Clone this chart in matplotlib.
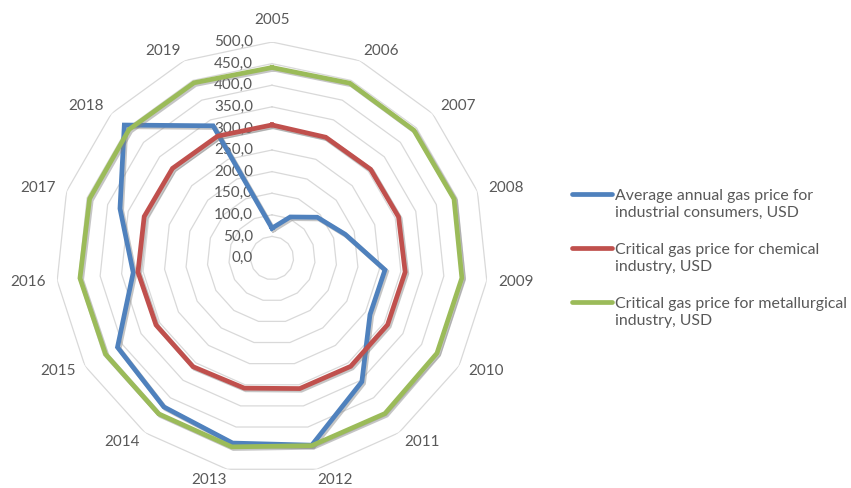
import numpy as np
import matplotlib.pyplot as plt
import matplotlib.patheffects as pe
from matplotlib.lines import Line2D

years = ['2005', '2006', '2007', '2008', '2009', '2010', '2011', '2012',
         '2013', '2014', '2015', '2016', '2017', '2018', '2019']

avg_price = [69, 104, 141, 178, 263, 262, 354, 443, 438, 426, 413, 323, 370, 460, 335]
chem_price = [308, 306, 307, 308, 310, 309, 310, 309, 308, 311, 310, 312, 311, 310, 309]
metal_price = [441, 443, 442, 443, 442, 441, 445, 444, 447, 446, 445, 447, 444, 445, 444]

labels = ['Average annual gas price for\nindustrial consumers, USD',
          'Critical gas price for chemical\nindustry, USD',
          'Critical gas price for metallurgical\nindustry, USD']
colors = ['#4F81BD', '#C0504D', '#9BBB59']

r_ticks = list(range(0, 501, 50))

plt.rcParams['font.family'] = ['Lato', 'DejaVu Sans']
text_color = '#595959'

fig = plt.figure(figsize=(8.51, 4.88), dpi=100)
ax = fig.add_axes([0.0658, 0.0287, 0.5076, 0.8852], projection='polar')
ax.set_theta_zero_location('N')
ax.set_theta_direction(-1)
ax.set_ylim(0, 500)
ax.grid(False)
ax.spines['polar'].set_visible(False)
ax.set_xticks([])
ax.set_yticks([])

theta = np.linspace(0, 2 * np.pi, len(years), endpoint=False)
theta_c = np.append(theta, theta[0])

# polygon grid like Excel radar
for r in r_ticks[1:]:
    ax.plot(theta_c, [r] * len(theta_c), color='#D9D9D9', lw=0.9, zorder=1)

# radial labels
for r in r_ticks:
    ax.annotate(f'{r:.1f}'.replace('.', ','), xy=(0, r), xytext=(-13.5, 0),
                textcoords='offset points', ha='right', va='center',
                fontsize=11, color=text_color, zorder=2)

# category labels, placed Excel-style (px from centre, 216 px = 500)
px = 500 / 216
for t, y in zip(theta, years):
    s, c = np.sin(t), np.cos(t)
    if abs(s) < 0.05:
        x0, y0, ha, va = 0, 227 * c + 11 * np.sign(c), 'center', 'center'
    else:
        x0, y0 = 230 * s - 2.5 * np.sign(s), 227 * c
        ha, va = ('left' if s > 0 else 'right'), 'center'
    ax.text(np.arctan2(x0, y0), np.hypot(x0, y0) * px, y, ha=ha, va=va,
            fontsize=11, color=text_color)

shadow = [pe.SimpleLineShadow(offset=(1.2, -1.2), shadow_color='#7F7F7F', alpha=0.45),
          pe.Normal()]

for vals, col in zip([avg_price, chem_price, metal_price], colors):
    v = np.append(vals, vals[0])
    ax.plot(theta_c, v, color=col, lw=3.4, solid_joinstyle='miter',
            path_effects=shadow, zorder=3)

# legend drawn by hand so the handle sits on the first text line
W, H = 851, 488
legend_y = [194, 248, 302]
for lab, col, y in zip(labels, colors, legend_y):
    fig.add_artist(Line2D([572 / W, 612 / W], [1 - y / H, 1 - y / H],
                          color=col, lw=3.4, solid_capstyle='round'))
    fig.text(615 / W, 1 - (y + 10.5) / H, lab, ha='left', va='center',
             fontsize=11.4, color=text_color, linespacing=1.28)

plt.savefig('out.png', dpi=100)
